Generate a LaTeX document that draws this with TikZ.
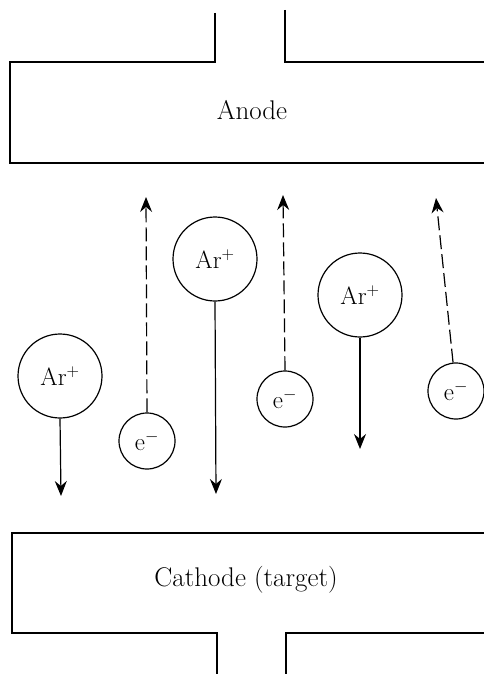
\documentclass[tikz,border=0pt]{standalone}
\usetikzlibrary{arrows.meta}
\begin{document}
\begin{tikzpicture}[x=1pt,y=-1pt,line width=1.2pt,
  electrode/.style={line width=1.3pt},
  label/.style={font=\fontsize{27}{32}\selectfont},
  ion/.style={circle,draw,minimum size=84pt,inner sep=0pt,font=\fontsize{25}{28}\selectfont},
  electron/.style={circle,draw,minimum size=56pt,inner sep=0pt,font=\fontsize{25}{28}\selectfont},
  ionpath/.style={-{Stealth[length=15pt,width=12pt,inset=5pt]}},
  electronpath/.style={dash pattern=on 14pt off 5pt,-{Stealth[length=15pt,width=12pt,inset=5pt]}}]
\useasboundingbox (0,0) rectangle (484,674);

% anode with its feed-through
\draw[electrode] (215,13) -- (215,62) -- (10,62) -- (10,163) -- (484,163);
\draw[electrode] (285,10) -- (285,62) -- (484,62);
\node[label] (anode) at (252,110) {Anode};

% cathode (target) with its feed-through
\draw[electrode] (484,533) -- (12,533) -- (12,633) -- (217,633) -- (217,674);
\draw[electrode] (286,674) -- (286,633) -- (484,633);
\node[label] (cathode) at (246,580) {Cathode (target)};

% argon ions drifting to the cathode
\node[ion] (ar1) at (60,376) {Ar$^{+}$};
\node[ion] (ar2) at (215,259) {Ar$^{+}$};
\node[ion] (ar3) at (360,295) {Ar$^{+}$};
\coordinate (ar1tip) at (61,496);
\coordinate (ar2tip) at (216,494);
\coordinate (ar3tip) at (360,449);
\draw[ionpath] (ar1.south) -- (ar1tip);
\draw[ionpath] (ar2.south) -- (ar2tip);
\draw[ionpath] (ar3.south) -- (ar3tip);

% electrons drifting to the anode
\node[electron] (el1) at (147,441) {e$^{-}$};
\node[electron] (el2) at (285,399) {e$^{-}$};
\node[electron] (el3) at (456,391) {e$^{-}$};
\coordinate (el1tip) at (146,197);
\coordinate (el2tip) at (283,195);
\coordinate (el3tip) at (436,198);
\draw[electronpath] (el1.north) -- (el1tip);
\draw[electronpath] (el2.north) -- (el2tip);
\draw[electronpath] (el3) -- (el3tip);
\end{tikzpicture}
\end{document}
